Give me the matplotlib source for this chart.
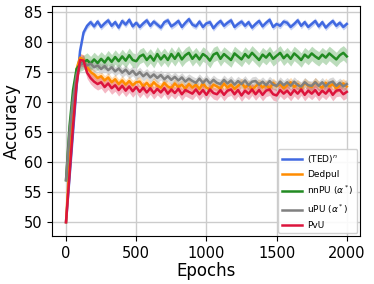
# Accuracy vs epochs for five PU methods

import numpy as np
import matplotlib.pyplot as plt

epochs = np.arange(0, 2001, 25)

ted = [50.0, 57.5, 65.0, 72.5, 78.5, 81.6, 82.7, 83.3, 82.6,
       83.4, 82.5, 83.1, 83.6, 82.7, 83.3, 82.4, 83.5, 82.9,
       83.7, 82.6, 83.2, 82.5, 83.1, 83.6, 82.7, 83.4, 82.9,
       82.4, 83.3, 83.6, 82.6, 83.0, 83.5, 82.5, 83.2, 83.8,
       82.9, 82.6, 83.4, 82.5, 83.1, 83.3, 82.3, 83.0, 83.5,
       82.7, 83.2, 83.6, 82.5, 83.0, 83.4, 82.7, 83.3, 82.4,
       83.0, 83.5, 82.6, 83.2, 83.7, 82.5, 83.0, 82.7, 83.4,
       83.2, 82.5, 83.0, 83.6, 82.7, 83.3, 82.5, 83.0, 83.5,
       82.6, 83.3, 82.4, 83.0, 83.5, 82.7, 83.2, 82.5, 83.0]

dedpul = [50.0, 60.0, 69.0, 75.5, 77.4, 77.0, 75.8, 75.0, 74.6,
          74.0, 74.3, 73.6, 74.1, 73.3, 73.8, 73.0, 73.6, 72.9,
          73.5, 72.8, 73.3, 73.4, 72.6, 73.2, 72.5, 73.3, 72.7,
          72.4, 73.2, 72.6, 72.3, 73.1, 72.5, 72.9, 72.2, 73.0,
          72.4, 72.9, 72.2, 73.1, 72.4, 72.1, 72.9, 72.6, 72.2,
          73.1, 72.4, 72.9, 72.2, 72.7, 73.2, 72.4, 72.9, 72.1,
          72.6, 73.1, 72.4, 72.9, 72.2, 73.2, 72.6, 73.0, 72.3,
          72.8, 73.3, 72.5, 73.0, 72.3, 73.2, 72.7, 72.5, 73.3,
          72.7, 72.4, 73.2, 72.6, 73.0, 72.3, 72.8, 73.1, 72.6]

nnpu = [57.0, 66.0, 72.0, 75.5, 76.3, 76.6, 77.0, 76.4, 77.1,
        76.5, 77.2, 76.6, 77.4, 76.7, 77.5, 76.8, 77.6, 76.9,
        77.8, 77.0, 76.8, 77.6, 77.9, 77.0, 77.7, 76.9, 78.0,
        77.1, 77.8, 77.0, 78.0, 77.2, 78.1, 77.1, 77.8, 78.2,
        77.2, 77.9, 77.1, 78.0, 77.6, 76.9, 77.9, 78.2, 77.2,
        78.0, 77.5, 77.0, 78.1, 77.6, 77.1, 78.0, 77.4, 78.2,
        77.6, 77.0, 77.9, 77.4, 78.1, 77.2, 77.7, 78.2, 77.3,
        77.9, 77.2, 78.1, 77.6, 77.0, 77.9, 77.4, 78.1, 77.6,
        77.2, 77.9, 77.4, 78.1, 77.6, 77.1, 77.8, 78.2, 77.6]

upu = [57.0, 65.0, 70.5, 74.5, 76.2, 76.6, 76.1, 76.4, 75.8,
       76.1, 75.5, 76.0, 75.3, 75.8, 75.1, 75.6, 74.9, 75.4,
       74.7, 75.2, 74.5, 75.0, 74.3, 74.8, 74.1, 74.6, 74.0,
       74.5, 73.8, 74.3, 73.7, 74.2, 73.6, 74.1, 73.4, 73.9,
       73.5, 73.2, 73.9, 73.2, 73.8, 73.1, 73.7, 73.2, 73.0,
       73.7, 73.1, 73.6, 72.9, 73.5, 73.0, 73.6, 72.8, 73.4,
       73.5, 72.9, 73.4, 72.8, 73.5, 72.9, 72.7, 73.4, 72.8,
       73.3, 72.7, 73.4, 72.8, 72.6, 73.3, 72.8, 72.7, 73.3,
       72.7, 73.3, 72.6, 73.2, 73.4, 72.7, 73.2, 72.6, 73.0]

pvu = [50.0, 58.0, 66.0, 73.0, 77.0, 76.9, 74.9, 74.0, 73.4,
       73.0, 73.3, 72.5, 73.1, 72.3, 72.8, 72.0, 72.7, 71.9,
       72.6, 71.8, 72.5, 71.7, 72.4, 71.6, 72.3, 71.5, 72.2,
       71.6, 72.3, 71.4, 72.1, 71.5, 72.2, 71.3, 72.0, 71.7,
       71.4, 72.1, 71.3, 72.0, 71.2, 72.1, 71.5, 71.3, 72.0,
       71.2, 71.9, 72.1, 71.3, 72.0, 71.1, 71.9, 71.4, 72.1,
       71.3, 72.0, 71.2, 71.9, 72.1, 71.3, 71.1, 72.0, 71.4,
       71.9, 71.2, 72.0, 71.4, 72.1, 71.2, 71.9, 71.4, 72.0,
       71.2, 71.9, 71.4, 72.1, 71.2, 71.9, 72.0, 71.3, 71.7]

labels = ['(TED)$^n$', 'Dedpul', r'nnPU ($\alpha^*$)', r'uPU ($\alpha^*$)', 'PvU']
colors = ['royalblue', 'darkorange', 'forestgreen', 'grey', 'crimson']
spread = [0.5, 0.8, 1.2, 0.8, 1.0]

fig = plt.figure(figsize=(3.74, 2.84), dpi=100)
ax = fig.add_axes([0.139, 0.169, 0.824, 0.81])

for y, lab, c, s in zip([ted, dedpul, nnpu, upu, pvu], labels, colors, spread):
    y = np.array(y)
    ax.fill_between(epochs, y - s, y + s, color=c, alpha=0.3, lw=0)
    ax.plot(epochs, y, color=c, lw=1.8, label=lab)

ax.set_xlim(-100, 2095)
ax.set_ylim(47.7, 86)
ax.set_xticks([0, 500, 1000, 1500, 2000])
ax.set_yticks(range(50, 86, 5))
ax.tick_params(labelsize=10.5)
ax.grid(True, color='#cccccc', lw=1)
ax.set_xlabel('Epochs', fontsize=12, labelpad=1)
ax.set_ylabel('Accuracy', fontsize=12, labelpad=2)
ax.legend(loc='lower right', fontsize=6.5, framealpha=0.9, borderpad=0.4,
          handlelength=2.2, handletextpad=0.6, labelspacing=0.55,
          borderaxespad=0.3)

fig.savefig('out.png', dpi=100)
